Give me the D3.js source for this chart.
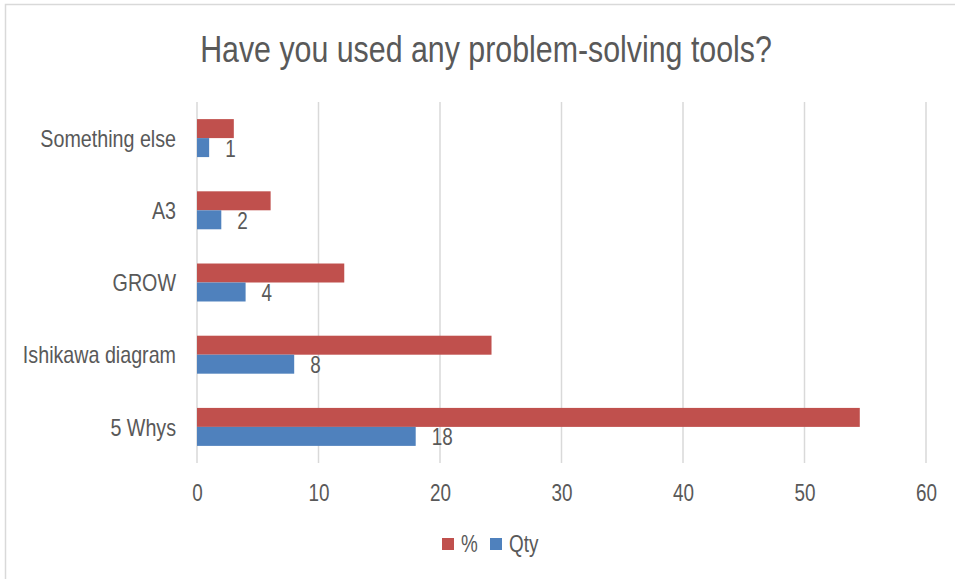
<!DOCTYPE html>
<html>
<head>
<meta charset="utf-8">
<script src="https://cdn.jsdelivr.net/npm/d3@7"></script>
<style>
  body { margin: 0; background: #fff; }
  text { font-family: "Liberation Sans", Arial, sans-serif; fill: #595959; }
</style>
</head>
<body>
<div id="chart"></div>
<script>
const categories = ['Something else', 'A3', 'GROW', 'Ishikawa diagram', '5 Whys'];
const percentValues = [3.03, 6.06, 12.12, 24.24, 54.55];
const qtyValues = [1, 2, 4, 8, 18];
const seriesNames = ['%', 'Qty'];
const xTicks = [0, 10, 20, 30, 40, 50, 60];
const seriesColors = ['#c0504d', '#4f81bd'];

const width = 955, height = 579;
const margin = { top: 102, right: 29, bottom: 116, left: 197 };
const narrow = 0.82; // simula una fuente condensada

const svg = d3.select('#chart')
  .append('svg')
  .attr('width', width)
  .attr('height', height);

// marco del gráfico
svg.append('rect')
  .attr('x', 5.5).attr('y', 4.5)
  .attr('width', 1000).attr('height', 1000)
  .attr('fill', 'none')
  .attr('stroke', '#d9d9d9')
  .attr('stroke-width', 1.5);

svg.append('text')
  .attr('x', 486)
  .attr('y', 62)
  .attr('text-anchor', 'middle')
  .style('font-size', '37px')
  .text('Have you used any problem-solving tools?');

const x = d3.scaleLinear()
  .domain([0, 60])
  .range([margin.left, width - margin.right]);

const y = d3.scaleBand()
  .domain(categories)
  .range([margin.top, height - margin.bottom])
  .paddingInner(0.474)
  .paddingOuter(0.237);

const ySub = d3.scaleBand()
  .domain(seriesNames)
  .range([0, y.bandwidth()]);

// rejilla
svg.append('g')
  .selectAll('line')
  .data(xTicks)
  .enter()
  .append('line')
  .attr('x1', d => x(d)).attr('x2', d => x(d))
  .attr('y1', margin.top).attr('y2', height - margin.bottom)
  .attr('stroke', '#d9d9d9')
  .attr('stroke-width', 1.5);

const rows = categories.map((c, i) => ({ cat: c, values: [percentValues[i], qtyValues[i]] }));

const groups = svg.append('g')
  .selectAll('g')
  .data(rows)
  .enter()
  .append('g')
  .attr('transform', d => `translate(0,${y(d.cat)})`);

groups.selectAll('rect')
  .data(d => d.values.map((v, j) => ({ v, s: seriesNames[j], j })))
  .enter()
  .append('rect')
  .attr('x', x(0))
  .attr('y', d => ySub(d.s))
  .attr('width', d => x(d.v) - x(0))
  .attr('height', ySub.bandwidth())
  .attr('fill', d => seriesColors[d.j]);

// etiquetas de cantidad
groups.append('text')
  .attr('x', (d, i) => x(qtyValues[i]) + 16)
  .attr('y', ySub('Qty') + ySub.bandwidth() / 2 + 1)
  .attr('dy', '.35em')
  .style('font-size', '23px')
  .text((d, i) => qtyValues[i]);

// ejes
const xAxis = svg.append('g')
  .attr('transform', `translate(0,${height - margin.bottom})`)
  .call(d3.axisBottom(x).tickValues(xTicks).tickSize(0).tickPadding(22));
xAxis.select('.domain').remove();
xAxis.selectAll('text').style('font-size', '23px').attr('fill', '#595959');

const yAxis = svg.append('g')
  .attr('transform', `translate(${margin.left},1)`)
  .call(d3.axisLeft(y).tickSize(0).tickPadding(21));
yAxis.select('.domain').remove();
yAxis.selectAll('text').style('font-size', '24px').attr('fill', '#595959');

// leyenda
const legend = svg.append('g')
  .selectAll('g')
  .data(seriesNames)
  .enter()
  .append('g')
  .attr('transform', (d, i) => `translate(${[442, 490][i]},538)`);

legend.append('rect')
  .attr('width', 12).attr('height', 12)
  .attr('fill', (d, i) => seriesColors[i]);

legend.append('text')
  .attr('x', 19)
  .attr('y', 6)
  .attr('dy', '.35em')
  .style('font-size', '23px')
  .text(d => d);

// comprimir todos los textos horizontalmente
svg.selectAll('text').each(function () {
  const len = this.getComputedTextLength();
  d3.select(this)
    .attr('textLength', len * narrow)
    .attr('lengthAdjust', 'spacingAndGlyphs');
});
</script>
</body>
</html>
